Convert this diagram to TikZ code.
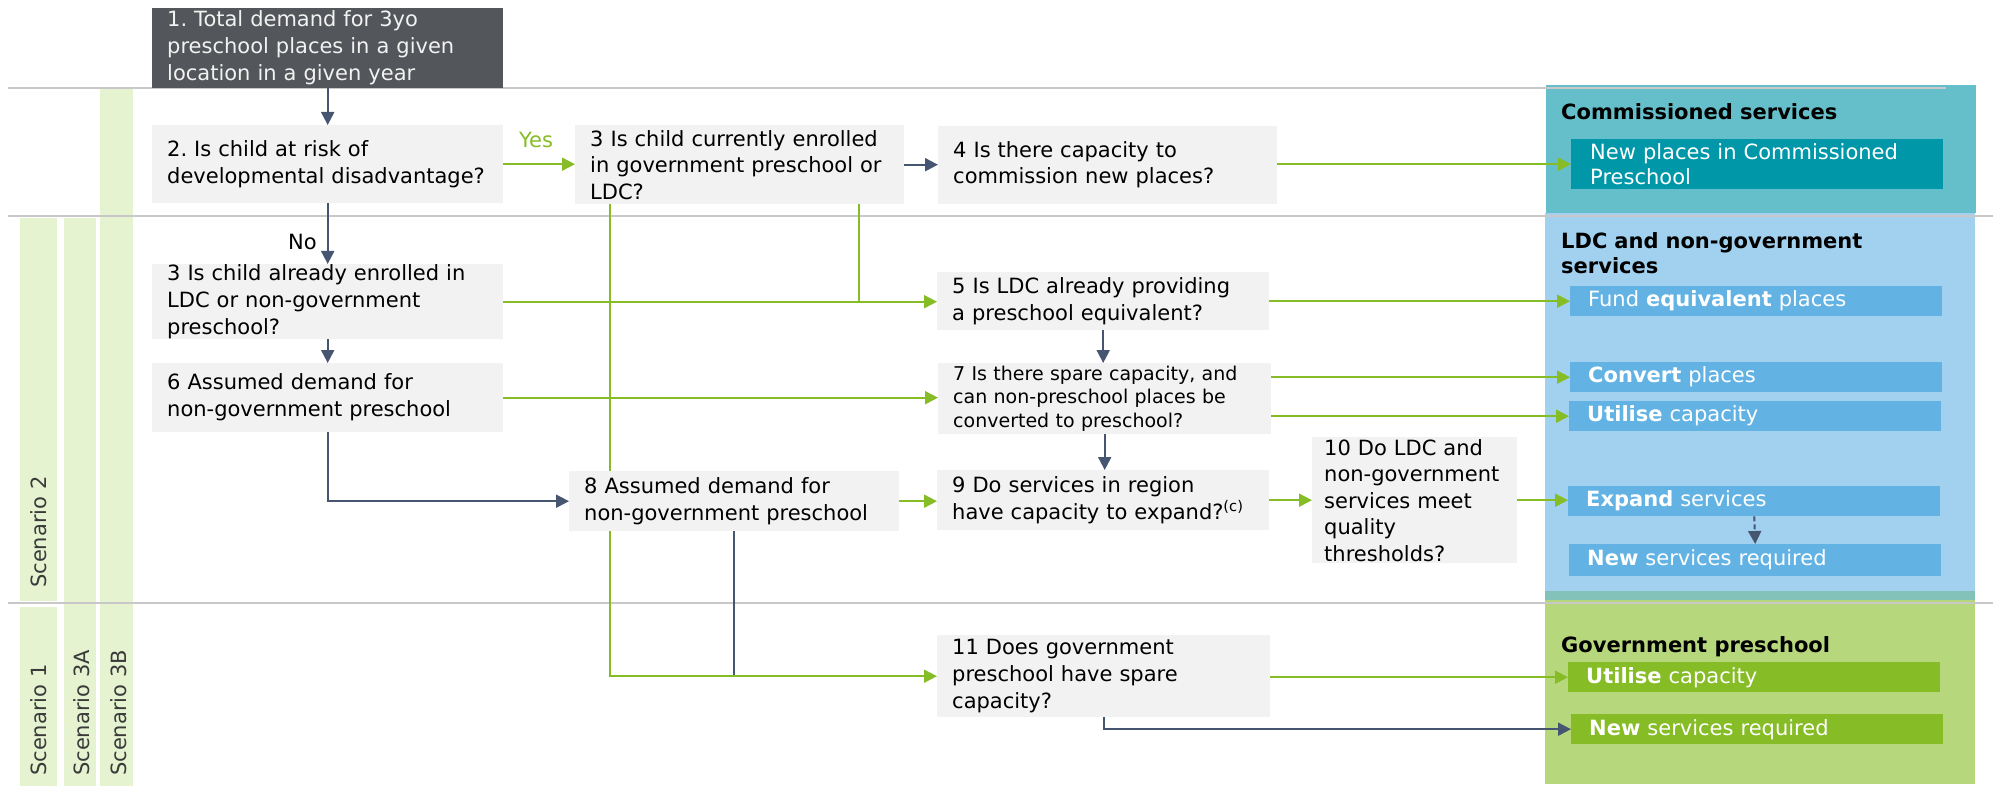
\documentclass[tikz,border=0pt]{standalone}
\usepackage{fontspec}
\setmainfont{DejaVu Sans}
\usetikzlibrary{arrows.meta,backgrounds}
\definecolor{boxgray}{HTML}{F2F2F2}
\definecolor{darkbox}{HTML}{53565A}
\definecolor{boxtxt}{HTML}{F2F2F2}
\definecolor{sepc}{HTML}{C8C8C8}
\definecolor{grn}{HTML}{86BC25}
\definecolor{slate}{HTML}{465670}
\definecolor{barg}{HTML}{E5F3D0}
\definecolor{commP}{HTML}{65BFCA}
\definecolor{commB}{HTML}{0097A8}
\definecolor{ldcP}{HTML}{A1D1EE}
\definecolor{ldcB}{HTML}{62B3E4}
\definecolor{govP}{HTML}{B7D77C}
\definecolor{govB}{HTML}{86BC25}
\definecolor{stripc}{HTML}{82C2B9}
\definecolor{scentxt}{HTML}{3A3A3A}
\newcommand\myqfont{\frenchspacing\fontsize{21}{27}\selectfont}
\pgfdeclarelayer{bg}
\pgfdeclarelayer{conn}
\pgfsetlayers{bg,conn,main}
\frenchspacing
\begin{document}
\begin{tikzpicture}[x=1pt,y=-1pt,
  qbox/.style={fill=boxgray, text=black, anchor=north west, inner xsep=15pt, inner ysep=0pt, align=left, font=\myqfont},
  obox/.style={anchor=north west, inner xsep=18pt, inner ysep=0pt, align=left, text=white, font=\myqfont, text width=336pt, minimum height=30pt},
  ttl/.style={anchor=base west, inner sep=0pt, font=\bfseries\myqfont, text=black},
  scen/.style={rotate=90, anchor=west, inner sep=0pt, font=\fontsize{21}{25}\selectfont, text=scentxt},
  garrow/.style={draw=grn, line width=2pt, -{Triangle[length=13pt,width=13pt]}},
  gline/.style={draw=grn, line width=2pt},
  sarrow/.style={draw=slate, line width=2pt, -{Triangle[length=13pt,width=13pt]}},
  sline/.style={draw=slate, line width=2pt},
  sepline/.style={draw=sepc, line width=1.6pt}
]
\useasboundingbox (0,0) rectangle (1993,786);

\begin{pgfonlayer}{bg}
  % scenario bars
  \fill[barg] (20,218) rectangle (57,601);
  \fill[barg] (20,607) rectangle (57,786);
  \fill[barg] (64,218) rectangle (96,786);
  \fill[barg] (100,89) rectangle (133,786);
  % panels
  \fill[commP] (1546,85) rectangle (1976,213);
  \fill[ldcP] (1545,213) rectangle (1975,591);
  \fill[stripc] (1545,591) rectangle (1975,600);
  \fill[govP] (1545,600) rectangle (1975,784);
  % separator lines
  \draw[sepline] (8,88) -- (1946,88);
  \draw[sepline] (8,216) -- (1993,216);
  \draw[sepline] (8,603) -- (1993,603);
\end{pgfonlayer}

% scenario labels
\node[scen] (s2) at (39,588) {Scenario 2};
\node[scen] (s1) at (39,776) {Scenario 1};
\node[scen] (s3a) at (82,776) {Scenario 3A};
\node[scen] (s3b) at (119,776) {Scenario 3B};

% question boxes
\node[qbox, fill=darkbox, text=boxtxt, text width=321pt, minimum height=80pt] (b1) at (152,8) {1. Total demand for 3yo\\preschool places in a given\\location in a given year};
\node[qbox, text width=321pt, minimum height=78pt] (b2) at (152,125) {2. Is child at risk of\\developmental disadvantage?};
\node[qbox, text width=321pt, minimum height=75pt] (b3b) at (152,264) {3 Is child already enrolled in\\LDC or non-government\\preschool?};
\node[qbox, text width=321pt, minimum height=69pt] (b6) at (152,363) {6 Assumed demand for\\non-government preschool};
\node[qbox, text width=299pt, minimum height=79pt, font=\frenchspacing\fontsize{21}{26.5}\selectfont] (b3a) at (575,125) {3 Is child currently enrolled\\in government preschool or\\LDC?};
\node[qbox, text width=309pt, minimum height=78pt, font=\frenchspacing\fontsize{21}{26}\selectfont] (b4) at (938,126) {4 Is there capacity to\\commission new places?};
\node[qbox, text width=302pt, minimum height=58pt] (b5) at (937,272) {5 Is LDC already providing\\a preschool equivalent?};
\node[qbox, text width=303pt, minimum height=71pt, font=\frenchspacing\fontsize{19}{23.5}\selectfont] (b7) at (938,363) {7 Is there spare capacity, and\\can non-preschool places be\\converted to preschool?};
\node[qbox, text width=300pt, minimum height=60pt] (b8) at (569,471) {8 Assumed demand for\\non-government preschool};
\node[qbox, text width=302pt, minimum height=60pt] (b9) at (937,470) {9 Do services in region\\have capacity to expand?\textsuperscript{(c)}};
\node[qbox, inner xsep=12pt, text width=181pt, minimum height=126pt, font=\frenchspacing\fontsize{21}{26.5}\selectfont] (b10) at (1312,437) {10 Do LDC and\\non-government\\services meet\\quality\\thresholds?};
\node[qbox, text width=303pt, minimum height=82pt] (b11) at (937,635) {11 Does government\\preschool have spare\\capacity?};

% panel titles
\node[ttl] (tc) at (1561,120) {Commissioned services};
\node[ttl, text width=400pt, align=left, font=\bfseries\fontsize{21}{25}\selectfont] (tl) at (1561,248) {LDC and non-government\\services};
\node[ttl] (tg) at (1561,652) {Government preschool};

% outcome boxes
\node[obox, fill=commB, inner xsep=19pt, text width=334pt, minimum height=50pt, font=\fontsize{21}{25}\selectfont] (c1) at (1571,139) {New places in Commissioned\\Preschool};
\node[obox, fill=ldcB] (l1) at (1570,286) {Fund \textbf{equivalent} places};
\node[obox, fill=ldcB] (l2) at (1570,362) {\textbf{Convert} places};
\node[obox, fill=ldcB] (l3) at (1569,401) {\textbf{Utilise} capacity};
\node[obox, fill=ldcB] (l4) at (1568,486) {\textbf{Expand} services};
\node[obox, fill=ldcB, minimum height=32pt] (l5) at (1569,544) {\textbf{New} services required};
\node[obox, fill=govB] (g1) at (1568,662) {\textbf{Utilise} capacity};
\node[obox, fill=govB] (g2) at (1571,714) {\textbf{New} services required};

% labels
\node[anchor=base, inner sep=0pt, text=grn, font=\fontsize{21}{25}\selectfont] (yes) at (536,148) {Yes};
\node[anchor=base east, inner sep=0pt, text=black, font=\myqfont] (no) at (317,250) {No};

% helper coordinates on box edges
\coordinate (b3aout1) at ([xshift=35pt]b3a.south west);
\coordinate (b3aout2) at ([xshift=284pt]b3a.south west);
\coordinate (b8out) at ([xshift=165pt]b8.south west);

\begin{pgfonlayer}{conn}
  \draw[sarrow] (b1.south) -- (b2.north);
  \draw[garrow] (b2.east) -- (b2.east -| b3a.west);
  \draw[sarrow] (b2.south) -- (b3b.north);
  \draw[sarrow] (b3a.east) -- (b3a.east -| b4.west);
  \draw[garrow] (b4.east |- c1.west) -- (c1.west);
  \draw[garrow] (b3b.east) -- (b3b.east -| b5.west);
  \draw[gline] (b3aout2) -- (b3aout2 |- b3b.east);
  \draw[garrow] (b5.east |- l1.west) -- (l1.west);
  \draw[sarrow] (b5.south) -- (b5.south |- b7.north);
  \draw[sarrow] (b3b.south) -- (b6.north);
  \draw[garrow] (b6.east) -- (b6.east -| b7.west);
  \draw[garrow] (b7.east |- l2.west) -- (l2.west);
  \draw[garrow] (b7.east |- l3.west) -- (l3.west);
  \draw[sarrow] (b7.south) -- (b7.south |- b9.north);
  \draw[sarrow] (b6.south) |- (b8.west);
  \draw[garrow] (b8.east) -- (b8.east -| b9.west);
  \draw[garrow] (b9.east) -- (b9.east -| b10.west);
  \draw[garrow] (b10.east) -- (b10.east -| l4.west);
  \draw[sarrow, dash pattern=on 5pt off 3pt] (l4.south) -- (l5.north);
  \draw[sline] (b8out) -- (b8out |- b11.west);
  \draw[garrow] (b3aout1) |- (b11.west);
  \draw[garrow] (b11.east |- g1.west) -- (g1.west);
  \draw[sarrow] (b11.south) |- (g2.west);
\end{pgfonlayer}
\end{tikzpicture}
\end{document}
